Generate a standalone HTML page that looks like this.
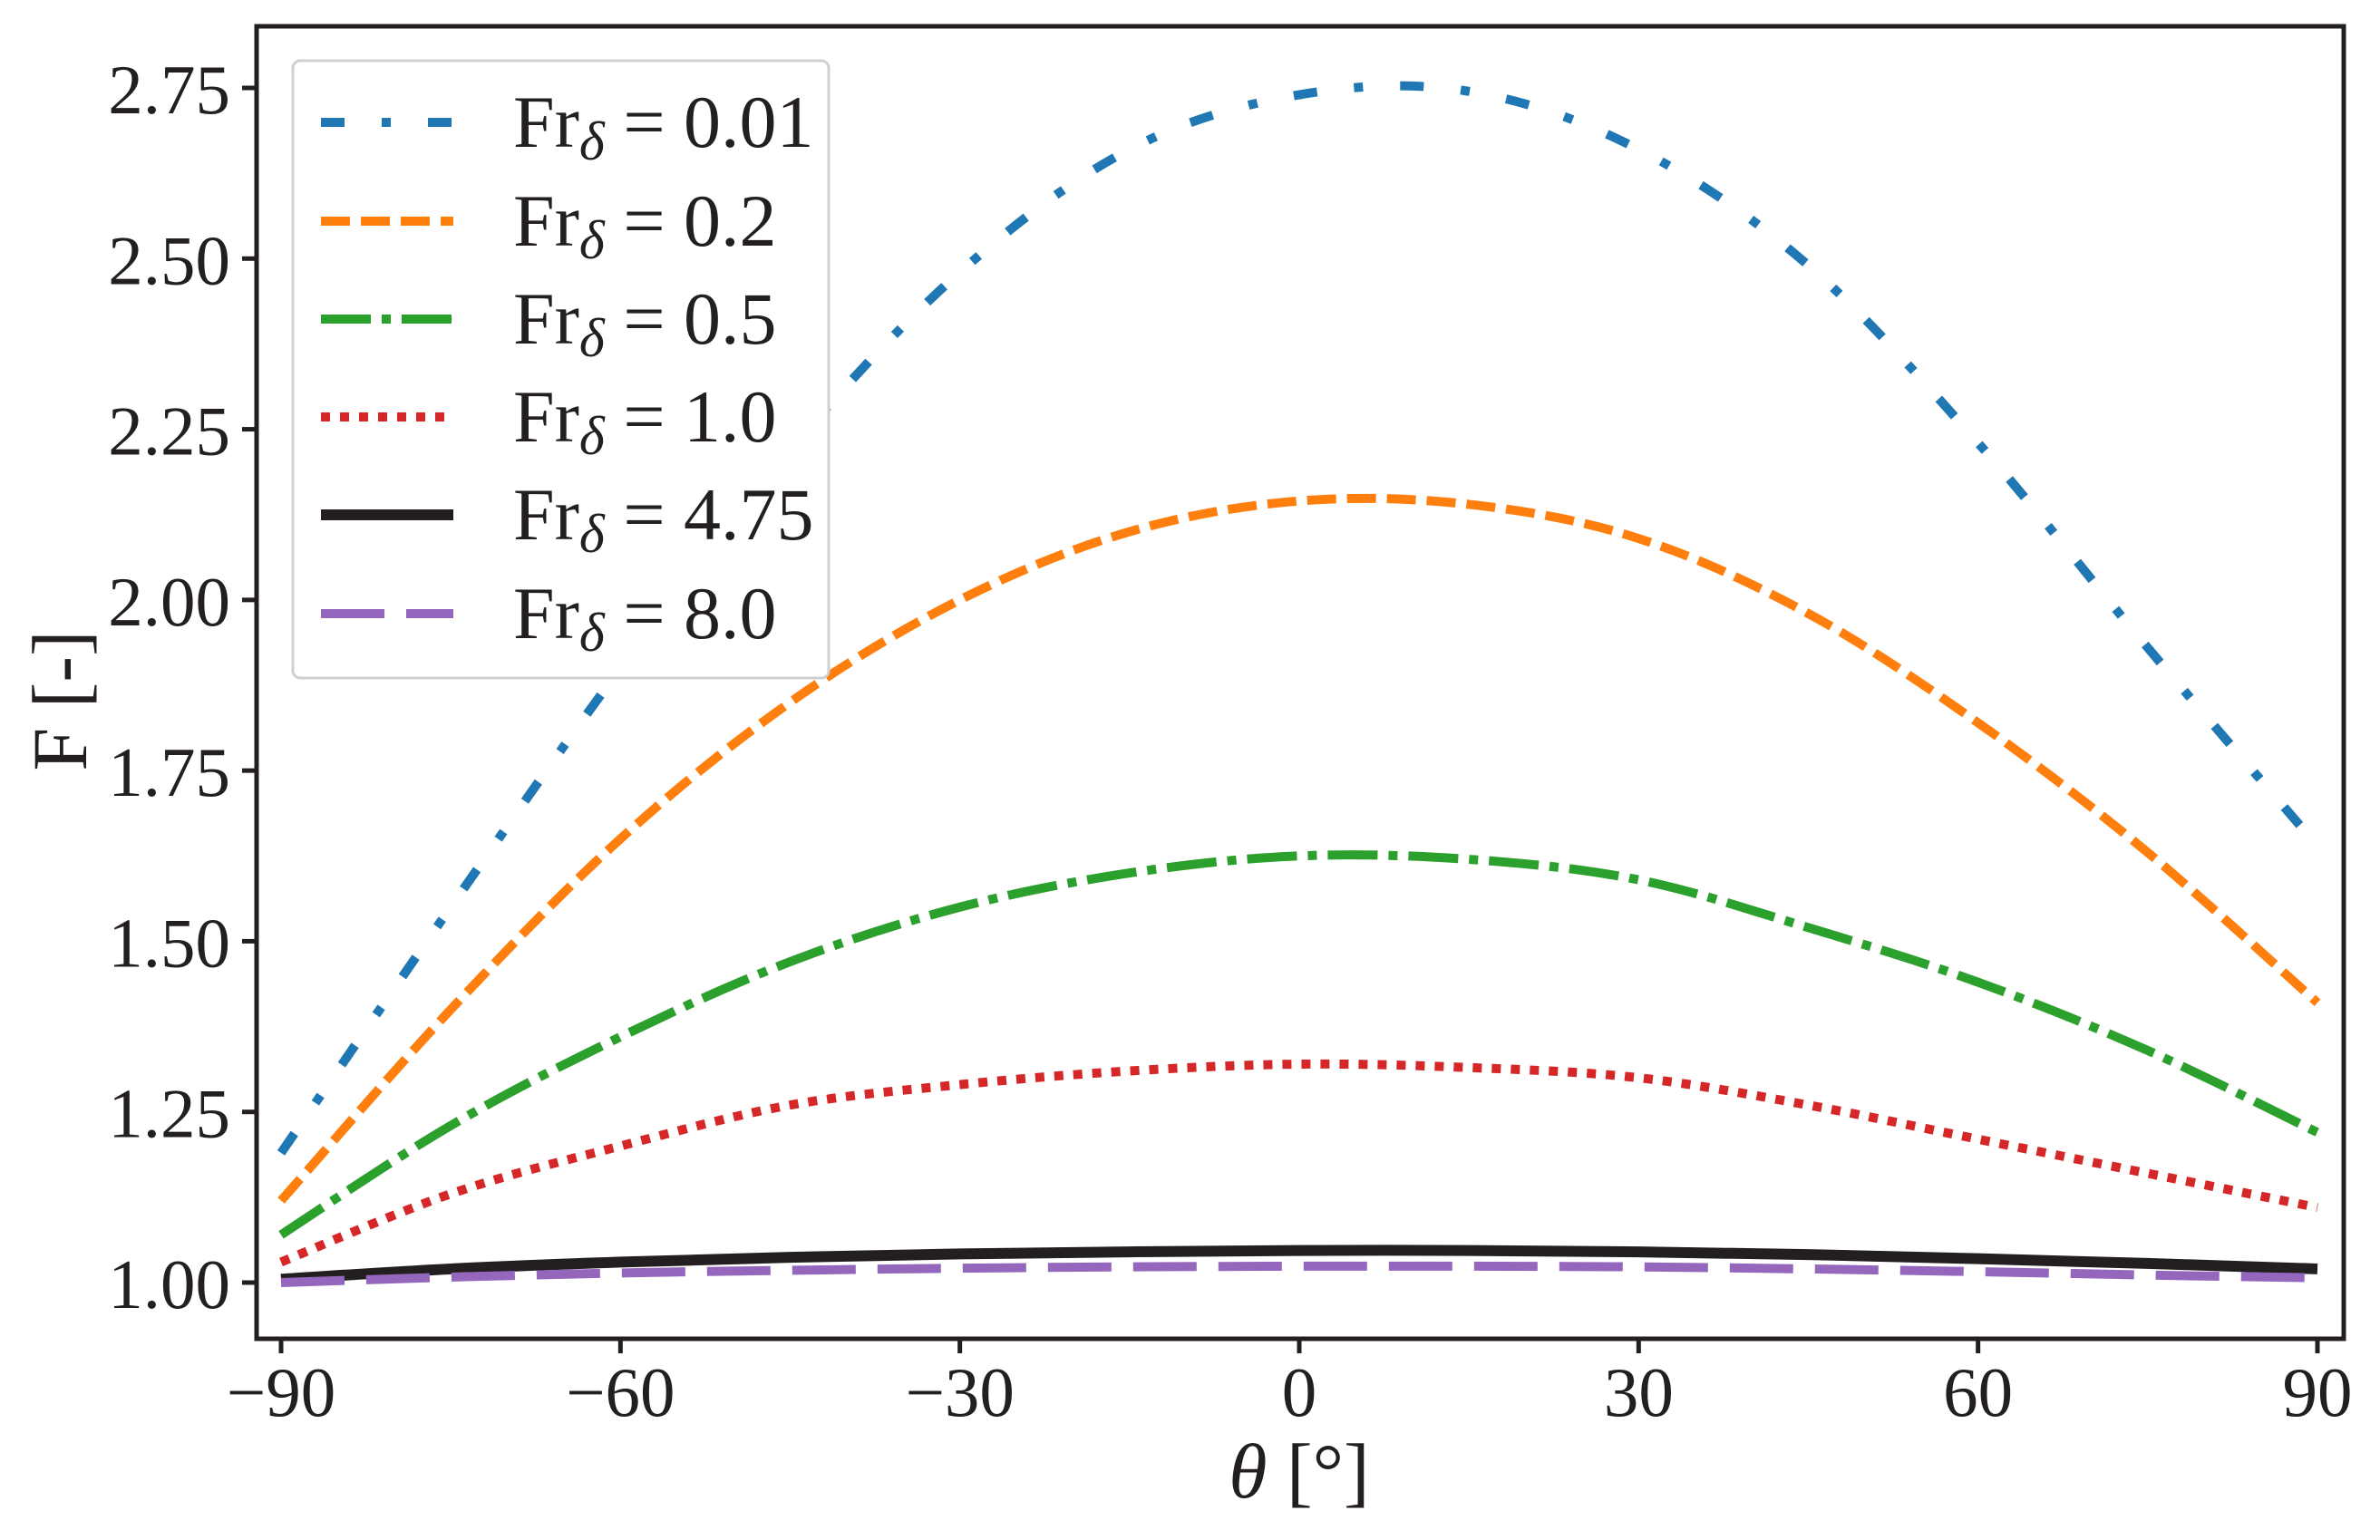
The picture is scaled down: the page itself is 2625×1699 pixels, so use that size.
<!DOCTYPE html>
<html><head><meta charset="utf-8"><style>body{margin:0;background:#fff}svg{display:block}text{font-family:"Liberation Serif","Times New Roman",Times,serif;fill:#231f20}</style></head>
<body>
<svg id="chart" width="2625" height="1699" viewBox="0 0 2625 1699" font-family="Liberation Serif, Times New Roman, serif">
<g id="plot"></g>
<g id="axes"></g>
<g id="legend"></g>
</svg>
<script>
const thetas = [-90,-75,-60,-45,-30,-15,0,15,30,45,60,75,90];
const fr001 = [1.19,1.55,1.90,2.22,2.48,2.66,2.74,2.745,2.66,2.49,2.23,1.93,1.64];
const fr02  = [1.12,1.40,1.65,1.85,2.00,2.10,2.145,2.14,2.09,1.98,1.82,1.63,1.41];
const fr05  = [1.07,1.23,1.36,1.47,1.55,1.60,1.625,1.62,1.59,1.52,1.44,1.34,1.22];
const fr10  = [1.03,1.13,1.20,1.26,1.29,1.31,1.32,1.315,1.30,1.26,1.21,1.16,1.11];
const fr475 = [1.005,1.02,1.03,1.037,1.042,1.045,1.047,1.047,1.045,1.041,1.035,1.028,1.02];
const fr80  = [1.0,1.008,1.014,1.018,1.021,1.023,1.024,1.024,1.023,1.02,1.016,1.011,1.007];
const xTicks = [-90,-60,-30,0,30,60,90];
const yTicks = [1.00,1.25,1.50,1.75,2.00,2.25,2.50,2.75];
const seriesLabels = ["0.01","0.2","0.5","1.0","4.75","8.0"];

const NS="http://www.w3.org/2000/svg";
const X = v => 310 + (v+90)/180*(2556-310);
const Y = v => 1415 - (v-1)/1.75*(1415-97);
function mk(tag, attrs, parent){const e=document.createElementNS(NS,tag);for(const k in attrs)e.setAttribute(k,attrs[k]);parent.appendChild(e);return e;}
const plot=document.getElementById('plot'), axes=document.getElementById('axes'), legend=document.getElementById('legend');
const styles=[
 {c:"#1f77b4",d:"26,41,10,41",w:10},
 {c:"#ff7f0e",d:"32,12",w:10},
 {c:"#2ca02c",d:"55,12,10,12",w:10},
 {c:"#d62728",d:"10,11",w:10},
 {c:"#231f20",d:"none",w:12},
 {c:"#9467bd",d:"70,24",w:10}];
const data=[fr001,fr02,fr05,fr10,fr475,fr80];
function smoothPath(xs,ys){
  const p=xs.map((x,i)=>[X(x),Y(ys[i])]);
  let d=`M${p[0][0]},${p[0][1]}`;
  for(let i=0;i<p.length-1;i++){
    const p0=p[Math.max(i-1,0)],p1=p[i],p2=p[i+1],p3=p[Math.min(i+2,p.length-1)];
    const c1=[p1[0]+(p2[0]-p0[0])/6,p1[1]+(p2[1]-p0[1])/6];
    const c2=[p2[0]-(p3[0]-p1[0])/6,p2[1]-(p3[1]-p1[1])/6];
    d+=`C${c1[0]},${c1[1]} ${c2[0]},${c2[1]} ${p2[0]},${p2[1]}`;
  }
  return d;
}
data.forEach((ys,i)=>{
  const el=mk('path',{d:smoothPath(thetas,ys),fill:'none',stroke:styles[i].c,'stroke-width':styles[i].w,'stroke-dasharray':styles[i].d},plot);
  
  
});
const fr=mk('rect',{x:283,y:29,width:2302,height:1448,fill:'none',stroke:'#231f20','stroke-width':5},axes);


xTicks.forEach(t=>{
  const tk=mk('line',{x1:X(t),x2:X(t),y1:1477,y2:1493,stroke:'#231f20','stroke-width':5},axes);
  
  
  const tx=mk('text',{x:X(t),y:1562,'text-anchor':'middle','font-size':77},axes);
  tx.textContent=t<0?'\u2212'+Math.abs(t):String(t);
  
  
});
yTicks.forEach(t=>{
  const tk=mk('line',{x1:267,x2:283,y1:Y(t),y2:Y(t),stroke:'#231f20','stroke-width':5},axes);
  
  
  const tx=mk('text',{x:254,y:Y(t)+28,'text-anchor':'end','font-size':77},axes);
  tx.textContent=t.toFixed(2);
  
  
});
const xl=mk('text',{x:1433,y:1652,'text-anchor':'middle','font-size':86},axes);
xl.innerHTML='<tspan font-style="italic">θ</tspan> [°]';


const yl=mk('text',{x:0,y:0,'text-anchor':'middle','font-size':86,transform:'translate(95,773) rotate(-90)'},axes);
yl.textContent='F [-]';


const lb=mk('rect',{x:323,y:67,width:591,height:681,rx:8,fill:'#fff',stroke:'#d0d0d0','stroke-width':3},legend);


const ly=[135,244,352,460,568,677];
seriesLabels.forEach((lab,i)=>{
  const g=mk('g',{},legend);
  
  
  mk('line',{x1:354,x2:500,y1:ly[i],y2:ly[i],stroke:styles[i].c,'stroke-width':styles[i].w,'stroke-dasharray':styles[i].d},g);
  const t=mk('text',{x:566,y:ly[i]+27,'font-size':82},g);
  t.innerHTML='Fr<tspan font-style="italic" font-size="60" dy="14">δ</tspan><tspan dy="-14"> = '+lab+'</tspan>';
});
</script>
</body></html>
